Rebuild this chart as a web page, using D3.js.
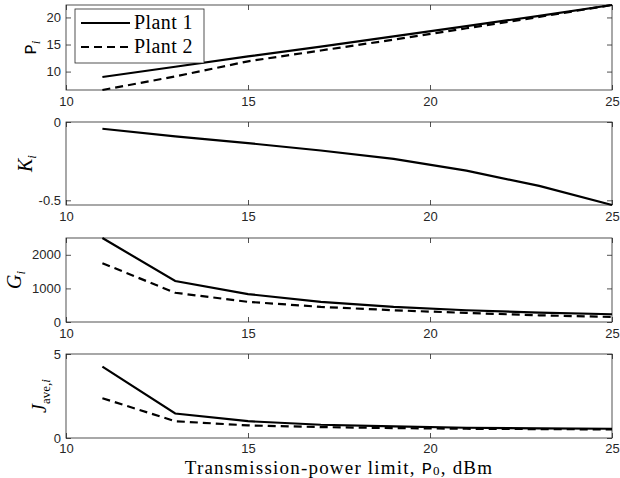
<!DOCTYPE html>
<html>
<head>
<meta charset="utf-8">
<script src="https://cdn.jsdelivr.net/npm/d3@7"></script>
<style>
  body { margin: 0; background: #fff; }
  svg { display: block; }
</style>
</head>
<body>
<div id="plot"></div>
<script>
// Data
const powerLimit = [11, 13, 15, 17, 19, 21, 23, 25];

const pPlant1 = [9.0, 10.9, 12.8, 14.6, 16.5, 18.4, 20.3, 22.3];
const pPlant2 = [6.6, 9.1, 11.9, 13.9, 15.9, 18.0, 20.1, 22.3];

const kGain = [-0.043, -0.092, -0.135, -0.182, -0.236, -0.311, -0.408, -0.53];

const gPlant1 = [2500, 1220, 830, 600, 450, 350, 280, 230];
const gPlant2 = [1750, 870, 600, 450, 350, 270, 200, 150];

const jPlant1 = [4.25, 1.46, 1.0, 0.79, 0.69, 0.61, 0.57, 0.55];
const jPlant2 = [2.37, 1.0, 0.75, 0.65, 0.59, 0.55, 0.53, 0.51];

const xTicks = [10, 15, 20, 25];

const svgWidth = 620;
const svgHeight = 478;
const left = 66, right = 612;
const axColor = "#262626";
const serif = "'Liberation Serif', 'Times New Roman', serif";

const svg = d3.select("#plot")
    .append("svg")
    .attr("width", svgWidth)
    .attr("height", svgHeight);

const x = d3.scaleLinear().domain([10, 25]).range([left, right]);

// one panel per quantity
const panels = [
    { top: 5, height: 85, domain: [6.6, 22.3], ticks: [10, 15, 20], series: [pPlant1, pPlant2], label: "P", labelX: 36 },
    { top: 122, height: 83, domain: [-0.53, 0], ticks: [-0.5, 0], series: [kGain], label: "K", labelX: 32 },
    { top: 238, height: 84, domain: [0, 2500], ticks: [0, 1000, 2000], series: [gPlant1, gPlant2], label: "G", labelX: 21 },
    { top: 354, height: 84, domain: [0, 5], ticks: [0, 5], series: [jPlant1, jPlant2], label: "J", labelX: 46 }
];

function styleAxis(g) {
    g.select(".domain").remove();
    g.selectAll(".tick line").attr("stroke", axColor).attr("stroke-width", 0.8);
    g.selectAll(".tick text")
        .attr("fill", axColor)
        .style("font-family", "'Liberation Sans', Arial, sans-serif")
        .style("font-size", "13px");
}

panels.forEach((p, idx) => {
    const y = d3.scaleLinear().domain(p.domain).range([p.top + p.height, p.top]);

    const g = svg.append("g");

    // axes box
    g.append("rect")
        .attr("x", left).attr("y", p.top)
        .attr("width", right - left).attr("height", p.height)
        .attr("fill", "white")
        .attr("stroke", axColor)
        .attr("stroke-width", 0.8);

    g.append("g")
        .attr("transform", `translate(0, ${p.top + p.height})`)
        .call(d3.axisBottom(x).tickValues(xTicks).tickSize(-5).tickPadding(idx === 3 ? 6 : 7).tickFormat(d3.format("d")))
        .call(styleAxis);
    g.append("g")
        .attr("transform", `translate(0, ${p.top})`)
        .call(d3.axisTop(x).tickValues(xTicks).tickSize(-5).tickFormat(""))
        .call(styleAxis);
    g.append("g")
        .attr("transform", `translate(${left}, 0)`)
        .call(d3.axisLeft(y).tickValues(p.ticks).tickSize(-5).tickPadding(5).tickFormat(d => String(d)))
        .call(styleAxis);
    g.append("g")
        .attr("transform", `translate(${right}, 0)`)
        .call(d3.axisRight(y).tickValues(p.ticks).tickSize(-5).tickFormat(""))
        .call(styleAxis);

    const line = d3.line()
        .x((d, i) => x(powerLimit[i]))
        .y(d => y(d));

    p.series.forEach((s, si) => {
        g.append("path")
            .datum(s)
            .attr("fill", "none")
            .attr("stroke", "black")
            .attr("stroke-width", 2.2)
            .attr("stroke-dasharray", si === 1 ? "8,5" : null)
            .attr("d", line);
    });

    // y label
    const cy = p.top + p.height / 2;
    const lab = g.append("text")
        .attr("transform", `translate(${p.labelX}, ${cy}) rotate(-90)`)
        .attr("text-anchor", "middle")
        .attr("fill", "black")
        .style("font-family", serif)
        .style("font-size", "20px");
    if (p.label === "P") {
        lab.append("tspan").style("font-family", "'Liberation Mono', monospace").style("font-size", "17px").text("P");
        lab.append("tspan").attr("dy", 4).style("font-style", "italic").style("font-size", "13px").text("i");
    } else if (p.label === "J") {
        lab.append("tspan").style("font-style", "italic").text("J");
        lab.append("tspan").attr("dy", 4).style("font-size", "13px").text("ave,");
        lab.append("tspan").style("font-style", "italic").style("font-size", "13px").text("i");
    } else {
        lab.append("tspan").style("font-style", "italic").text(p.label);
        lab.append("tspan").attr("dy", 4).style("font-style", "italic").style("font-size", "13px").text("i");
    }
});

// x label
const xl = svg.append("text")
    .attr("x", 339).attr("y", 474)
    .attr("text-anchor", "middle")
    .attr("fill", "black")
    .style("font-family", serif)
    .style("font-size", "19px")
    .style("letter-spacing", "1.2px");
xl.append("tspan").text("Transmission-power limit, ");
xl.append("tspan").style("font-family", "'Liberation Mono', monospace").style("font-size", "17px").text("P");
xl.append("tspan").attr("dy", 1).style("font-size", "13px").text("0");
xl.append("tspan").attr("dy", -1).text(", dBm");

// legend
const legendNames = ["Plant 1", "Plant 2"];
const lg = svg.append("g");
lg.append("rect")
    .attr("x", 75).attr("y", 9).attr("width", 129).attr("height", 54)
    .attr("fill", "white").attr("stroke", axColor).attr("stroke-width", 0.8);
legendNames.forEach((name, i) => {
    const ly = 23 + i * 24;
    lg.append("line")
        .attr("x1", 81).attr("x2", 130).attr("y1", ly).attr("y2", ly)
        .attr("stroke", "black").attr("stroke-width", 2.2)
        .attr("stroke-dasharray", i === 1 ? "8,5" : null);
    lg.append("text")
        .attr("x", 134).attr("y", ly + 6)
        .attr("fill", "black")
        .style("font-family", serif)
        .style("font-size", "20px")
        .style("letter-spacing", "0.4px")
        .text(name);
});
</script>
</body>
</html>
